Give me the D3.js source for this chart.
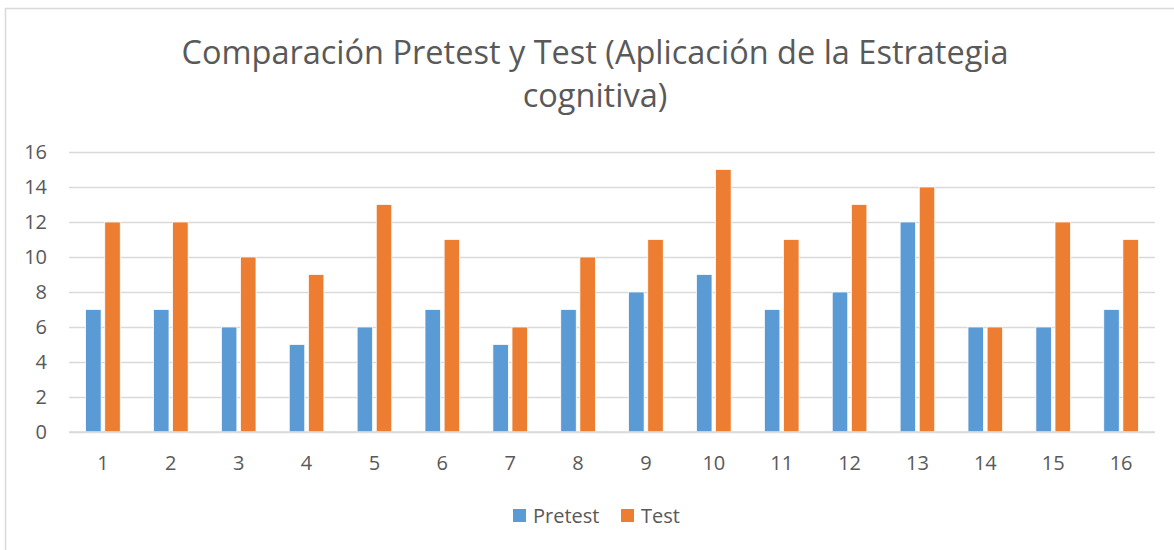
<!DOCTYPE html>
<html>
<head>
<meta charset="utf-8">
<script src="https://cdn.jsdelivr.net/npm/d3@7"></script>
<style>
  body { margin: 0; background: #fff; }
  text { font-family: "Open Sans", "Noto Sans", sans-serif; fill: #595959; }
</style>
</head>
<body>
<svg id="chart" width="1174" height="550"></svg>
<script>
// data
var categories = ['1','2','3','4','5','6','7','8','9','10','11','12','13','14','15','16'];
var seriesNames = ['Pretest', 'Test'];
var pretest = [7, 7, 6, 5, 6, 7, 5, 7, 8, 9, 7, 8, 12, 6, 6, 7];
var test = [12, 12, 10, 9, 13, 11, 6, 10, 11, 15, 11, 13, 14, 6, 12, 11];
var yTicks = [0, 2, 4, 6, 8, 10, 12, 14, 16];
var titleLines = ['Comparación Pretest y Test (Aplicación de la Estrategia', 'cognitiva)'];

var colors = { Pretest: '#5B9BD5', Test: '#ED7D31' };

var svg = d3.select('#chart');

// outer chart border
svg.append('rect')
  .attr('x', 5.5).attr('y', 8.5)
  .attr('width', 1180).attr('height', 560)
  .attr('fill', 'none')
  .attr('stroke', '#d9d9d9')
  .attr('stroke-width', 1.5);

var plotLeft = 69, plotRight = 1155, plotTop = 152, plotBottom = 432;

var y = d3.scaleLinear().domain([0, 16]).range([plotBottom, plotTop]);

var x0 = d3.scaleBand()
  .domain(categories)
  .range([plotLeft, plotRight])
  .paddingInner(0.49)
  .paddingOuter(0.245);

var x1 = d3.scaleBand()
  .domain(seriesNames)
  .range([0, x0.bandwidth()])
  .paddingInner(0.19);

// title
svg.append('g').selectAll('text')
  .data(titleLines)
  .enter().append('text')
  .attr('x', 595)
  .attr('y', function(d, i) { return 64 + i * 43; })
  .attr('text-anchor', 'middle')
  .style('font-size', '32.5px')
  .text(function(d) { return d; });

// gridlines + y labels
var yAxis = d3.axisLeft(y)
  .tickValues(yTicks)
  .tickSize(-(plotRight - plotLeft))
  .tickPadding(22);

var gy = svg.append('g')
  .attr('transform', 'translate(' + plotLeft + ',0)')
  .call(yAxis);
gy.select('.domain').remove();
gy.selectAll('.tick line').attr('stroke', '#d9d9d9').attr('stroke-width', 1.5);
gy.selectAll('.tick text')
  .attr('font-family', null)
  .style('font-size', '20px')
  .attr('fill', '#595959');

// bars
var rows = categories.map(function(c, i) {
  return { cat: c, values: [{ key: 'Pretest', value: pretest[i] }, { key: 'Test', value: test[i] }] };
});

var groups = svg.append('g').selectAll('g')
  .data(rows)
  .enter().append('g')
  .attr('transform', function(d) { return 'translate(' + x0(d.cat) + ',0)'; });

groups.selectAll('rect')
  .data(function(d) { return d.values; })
  .enter().append('rect')
  .attr('x', function(d) { return x1(d.key); })
  .attr('y', function(d) { return y(d.value); })
  .attr('width', x1.bandwidth())
  .attr('height', function(d) { return y(0) - y(d.value); })
  .attr('fill', function(d) { return colors[d.key]; })
  .attr('stroke', '#fff')
  .attr('stroke-width', 0.75);

// x axis line + labels
svg.append('line')
  .attr('x1', plotLeft).attr('x2', plotRight)
  .attr('y1', plotBottom).attr('y2', plotBottom)
  .attr('stroke', '#d9d9d9').attr('stroke-width', 1.5);

var xLab = d3.scaleBand().domain(categories).range([plotLeft, plotRight]);
svg.append('g').selectAll('text')
  .data(categories)
  .enter().append('text')
  .attr('x', function(d) { return xLab(d) + xLab.bandwidth() / 2; })
  .attr('y', 470)
  .attr('text-anchor', 'middle')
  .style('font-size', '20px')
  .text(function(d) { return d; });

// legend
var legendX = [513, 621];
var legend = svg.append('g').selectAll('g')
  .data(seriesNames)
  .enter().append('g')
  .attr('transform', function(d, i) { return 'translate(' + legendX[i] + ',509)'; });
legend.append('rect')
  .attr('width', 13).attr('height', 13)
  .attr('fill', function(d) { return colors[d]; });
legend.append('text')
  .attr('x', 20).attr('y', 14)
  .style('font-size', '20px')
  .text(function(d) { return d; });
</script>
</body>
</html>
